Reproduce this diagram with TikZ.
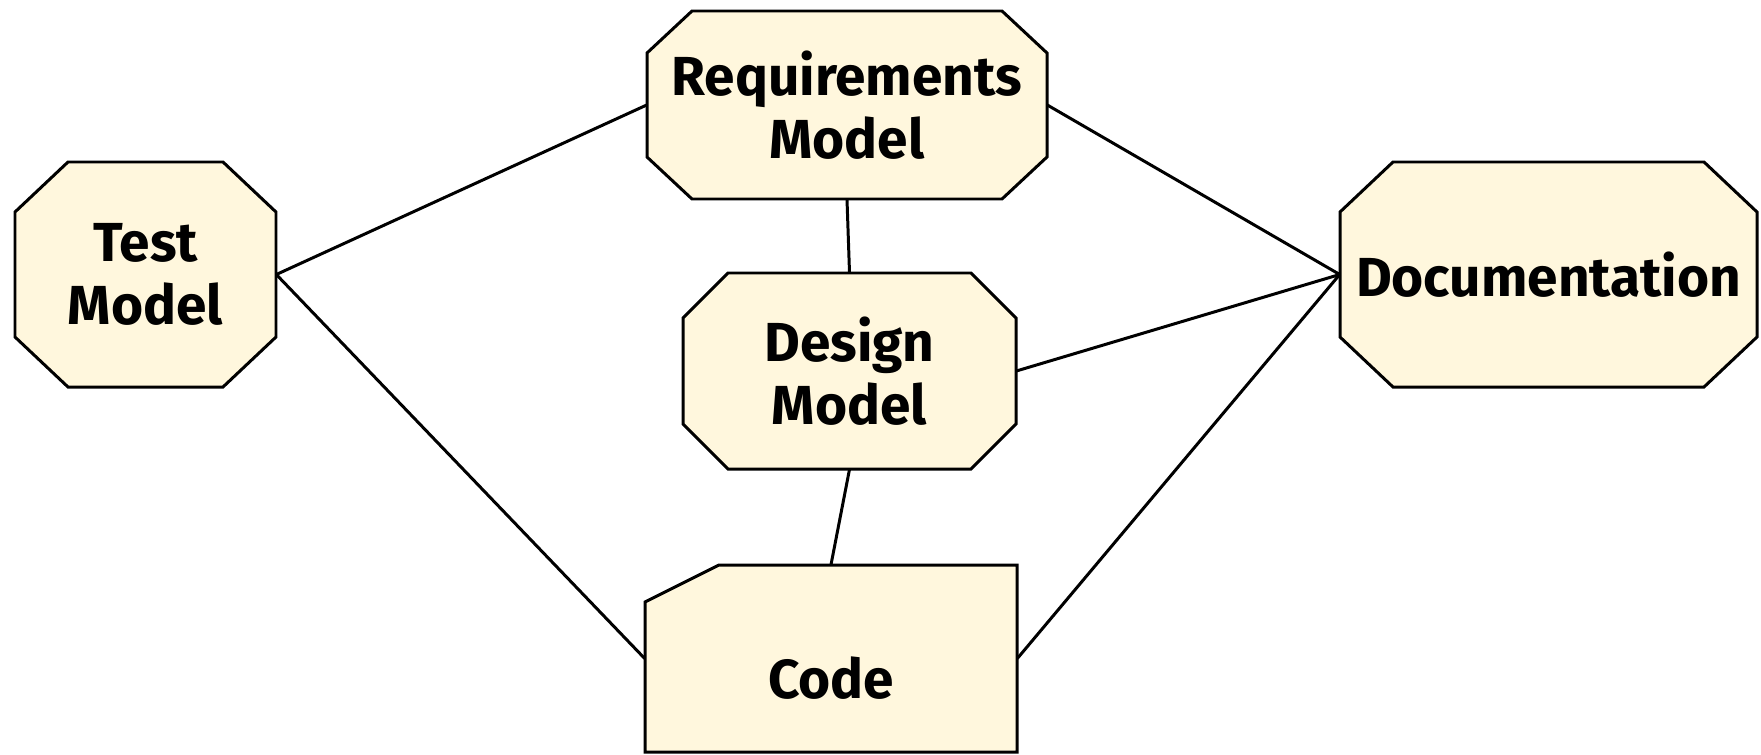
\documentclass[tikz,border=0pt]{standalone}
\usepackage{fontspec}
\setmainfont{Fira Sans}
\definecolor{boxfill}{RGB}{255,247,221}
% chamfered outline: corner (x1,y1), corner (x2,y2), chamfer (cx,cy)
\def\chambox(#1,#2)(#3,#4)(#5,#6){\draw[line width=1.7pt, fill=boxfill] ({#1+#5},#2) -- ({#3-#5},#2) -- (#3,{#2+#6}) -- (#3,{#4-#6}) -- ({#3-#5},#4) -- ({#1+#5},#4) -- (#1,{#4-#6}) -- (#1,{#2+#6}) -- cycle;}

\begin{document}
\begin{tikzpicture}[x=0.02cm, y=-0.02cm,
	model/.style={rectangle, align=center, inner sep=0pt,
		font=\fontsize{31.3}{35.5}\selectfont\bfseries},
	link/.style={line width=1.7pt}]
	%%%%% START %%%%%
	\useasboundingbox (0, 0) rectangle (1761, 754);

	\chambox(15,162)(276,387)(53,50)
	\chambox(647,11)(1047,199)(45,42)
	\chambox(683,273)(1016,469)(45,45)
	\chambox(1340,162)(1757,387)(53,50)
	\draw[line width=1.7pt, fill=boxfill] (719,565) -- (1017,565) -- (1017,752) -- (645,752) -- (645,602) -- cycle;

	\node[model, minimum width=5.22cm, minimum height=4.5cm] (test) at (145.5, 274.5) {Test\\Model};
	\node[model, minimum width=8cm, minimum height=3.76cm] (req) at (847, 105) {Requirements\\Model};
	\node[model, minimum width=6.66cm, minimum height=3.92cm] (design) at (849.5, 371) {Design\\Model};
	\node[model, minimum width=8.34cm, minimum height=4.5cm] (doc) at (1548.5, 274.5) {Documentation};
	% code text sits low in its box
	\node[model, minimum width=7.44cm, minimum height=3.74cm, text height=1.6cm, text depth=0pt] (code) at (831, 658.5) {Code};

	\draw[link] (test.east) -- (req.west);
	\draw[link] (test.east) -- (code.west);
	\draw[link] (req.south) -- (design.north);
	\draw[link] (req.east) -- (doc.west);
	\draw[link] (design.east) -- (doc.west);
	\draw[link] (design.south) -- (code.north);
	\draw[link] (code.east) -- (doc.west);

	%%%%% END %%%%%
\end{tikzpicture}
\end{document}
